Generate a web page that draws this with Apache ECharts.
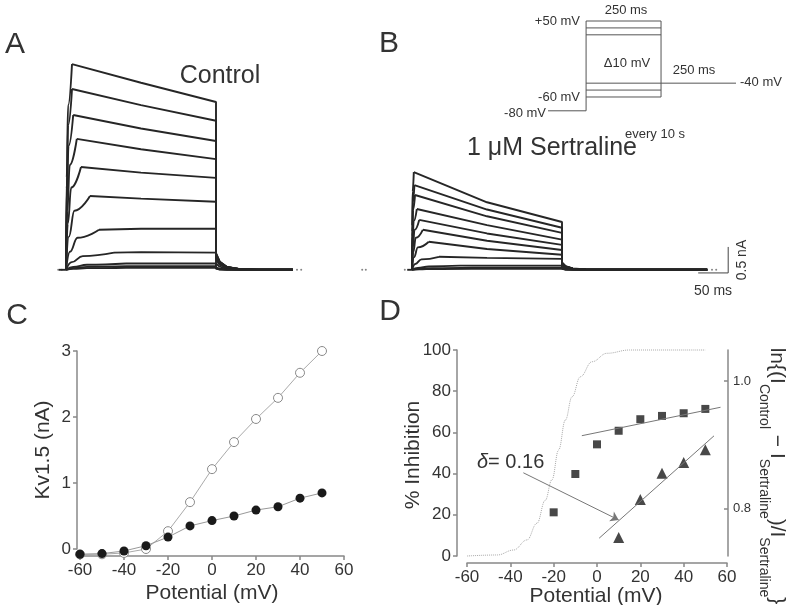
<!DOCTYPE html>
<html>
<head>
<meta charset="utf-8">
<script src="https://cdn.jsdelivr.net/npm/echarts@6/dist/echarts.min.js"></script>
<style>
html, body { margin: 0; padding: 0; background: #fff; }
#chart { width: 790px; height: 605px; }
</style>
</head>
<body>
<div id="chart"></div>
<script>
const FONT = "'Liberation Sans', Arial, sans-serif"
const INK = '#333'
const AXIS = '#888'

// A / B: one entry per test pulse, +50 mV first (nA, ms)
const ctrlPeak = [3.96, 3.48, 2.98, 2.52, 1.98, 1.42, 0.77, 0.33, 0.12, 0.07, 0.04]
const ctrlPeakTime = [10, 10, 12, 18, 25, 40, 55, 80, 100, 100, 100]
const ctrlMid = [3.60, 3.17, 2.72, 2.32, 1.87, 1.37, 0.79, 0.34, 0.12, 0.07, 0.04]
const ctrlEnd = [3.23, 2.87, 2.48, 2.13, 1.77, 1.31, 0.79, 0.33, 0.12, 0.07, 0.04]
const ctrlTail = [0.32, 0.31, 0.30, 0.29, 0.27, 0.25, 0.20, 0.12, 0.04, 0.02, 0.01]

const sertPeak = [1.88, 1.63, 1.44, 1.17, 0.96, 0.77, 0.54, 0.25, 0.08, 0.04, 0.02]
const sertPeakTime = [3, 4, 5, 8, 12, 18, 28, 45, 80, 100, 100]
const sertMid = [1.30, 1.16, 1.03, 0.86, 0.70, 0.56, 0.40, 0.23, 0.08, 0.04, 0.02]
const sertEnd = [0.92, 0.81, 0.71, 0.58, 0.48, 0.38, 0.29, 0.21, 0.08, 0.04, 0.02]
const sertTail = [0.14, 0.13, 0.13, 0.12, 0.11, 0.10, 0.08, 0.05, 0.02, 0.01, 0.005]

const pulseMs = 250
const midMs = 125
const ctrlDots = [-13, -7, 385, 392]
const sertDots = [-83, -77, -12, 500, 507]

// voltage protocol (mV, ms)
const stepLevels = [50, 40, 30, -40, -50, -60]
const holdMv = -80
const tailMv = -40
const preMs = -127
const tailEndMs = 500

// C: I-V
const potentials = [-60, -50, -40, -30, -20, -10, 0, 10, 20, 30, 40, 50]
const ctrlIV = [-0.08, -0.08, -0.06, 0.0, 0.27, 0.71, 1.21, 1.62, 1.97, 2.29, 2.67, 3.0]
const sertIV = [-0.08, -0.07, -0.03, 0.05, 0.18, 0.35, 0.43, 0.50, 0.59, 0.64, 0.77, 0.85]
const potentialTicks = [-60, -40, -20, 0, 20, 40, 60]
const currentTicks = [0, 1, 2, 3]

// D: inhibition
const inhibV = [-20, -10, 0, 10, 20, 30, 40, 50]
const inhibPct = [21.2, 39.8, 54.2, 60.8, 66.4, 68.0, 69.3, 71.4]
const lnV = [10, 20, 30, 40, 50]
const lnVal = [0.754, 0.814, 0.855, 0.872, 0.892]
const fitSqV = [-7, 57]
const fitSqPct = [58.4, 72.2]
const fitTriV = [1, 54]
const fitTriVal = [0.753, 0.914]
const actV = [-60, -46, -38.5, -32.3, -27.7, -23.9, -20.8, -17.7, -14.6, -11.5, -7.7, -2.3, 4.6, 15, 50]
const actPct = [0, 0.5, 2.9, 7.8, 15.9, 27, 37, 51.5, 66, 77.3, 87, 94.3, 98.4, 100, 100]
const inhibTicks = [0, 20, 40, 60, 80, 100]
const lnTicks = [0.8, 1.0]
const arrowFrom = [-34, 40.4]
const arrowTo = [10, 17.5]

const zip = (xs, ys) => xs.map((x, i) => [x, ys[i]])

// activation up to the peak
function rise(i, pk, pt) {
  const p = pk[i], t = pt[i]
  return [[0, 0], [t * 0.12, p * 0.45], [t * 0.35, p * 0.8], [t, p]]
}
// inactivation during the pulse, then repolarisation and tail
function rest(i, pk, pt, mid, end, tl, xEnd) {
  const q = tl[i]
  return [[pt[i], pk[i]], [midMs, mid[i]], [pulseMs, end[i]],
    [pulseMs, q], [pulseMs + 6, q * 0.5], [pulseMs + 18, q * 0.18],
    [pulseMs + 40, q * 0.04], [pulseMs + 70, 0], [xEnd, 0]]
}

function traceSeries(axis, data, smooth) {
  return {
    type: 'line', xAxisIndex: axis, yAxisIndex: axis, data,
    showSymbol: false, silent: true, clip: false,
    smooth: smooth || false, smoothMonotone: 'x',
    lineStyle: {color: '#262626', width: 1.9}
  }
}

const series = []
function sweeps(axis, pk, pt, mid, end, tl, xEnd) {
  pk.forEach((_, i) => {
    series.push(traceSeries(axis, rise(i, pk, pt), 0.45))
    series.push(traceSeries(axis, rest(i, pk, pt, mid, end, tl, xEnd), false))
  })
}
sweeps(0, ctrlPeak, ctrlPeakTime, ctrlMid, ctrlEnd, ctrlTail, 378)
sweeps(1, sertPeak, sertPeakTime, sertMid, sertEnd, sertTail, 492)
series.push(traceSeries(0, [[-12, 0], [0, 0]], false))
series.push(traceSeries(1, [[-8, 0], [0, 0]], false))
series.push({type: 'scatter', xAxisIndex: 0, yAxisIndex: 0, clip: false, symbolSize: 2,
  itemStyle: {color: '#666'}, data: ctrlDots.map(t => [t, 0])})
series.push({type: 'scatter', xAxisIndex: 1, yAxisIndex: 1, clip: false, symbolSize: 2,
  itemStyle: {color: '#666'}, data: sertDots.map(t => [t, 0])})
// scale bar 50 ms / 0.5 nA
series.push({type: 'line', xAxisIndex: 1, yAxisIndex: 1, clip: false, showSymbol: false,
  lineStyle: {color: '#444', width: 1},
  data: [[477, -0.06], [477 + 50, -0.06], [477 + 50, -0.06 + 0.5]]})

// protocol segments
const seg = (pts) => series.push({type: 'line', xAxisIndex: 2, yAxisIndex: 2, showSymbol: false,
  silent: true, clip: false, lineStyle: {color: '#555', width: 1}, data: pts})
seg([[preMs, holdMv], [0, holdMv], [0, stepLevels[0]]])
stepLevels.forEach(v => seg([[0, v], [pulseMs, v]]))
seg([[pulseMs, stepLevels[0]], [pulseMs, stepLevels[stepLevels.length - 1]]])
seg([[pulseMs, tailMv], [tailEndMs, tailMv]])

// C
series.push({type: 'line', xAxisIndex: 3, yAxisIndex: 3, clip: false, data: zip(potentials, ctrlIV),
  symbol: 'circle', symbolSize: 9,
  itemStyle: {color: '#fff', borderColor: '#8a8a8a', borderWidth: 1},
  lineStyle: {color: '#aaa', width: 1}})
series.push({type: 'line', xAxisIndex: 3, yAxisIndex: 3, clip: false, data: zip(potentials, sertIV),
  symbol: 'circle', symbolSize: 9,
  itemStyle: {color: '#1a1a1a'},
  lineStyle: {color: '#999', width: 1}})

// D
series.push({type: 'line', xAxisIndex: 4, yAxisIndex: 4, clip: false, data: zip(actV, actPct),
  showSymbol: false, smooth: 0.4, smoothMonotone: 'x',
  lineStyle: {color: '#aaa', width: 1, type: 'dotted'}})
series.push({type: 'line', xAxisIndex: 4, yAxisIndex: 4, clip: false, data: zip(fitSqV, fitSqPct),
  showSymbol: false, lineStyle: {color: '#777', width: 1}})
series.push({type: 'line', xAxisIndex: 4, yAxisIndex: 5, clip: false, data: zip(fitTriV, fitTriVal),
  showSymbol: false, lineStyle: {color: '#777', width: 1}})
series.push({type: 'scatter', xAxisIndex: 4, yAxisIndex: 4, clip: false, data: zip(inhibV, inhibPct),
  symbol: 'rect', symbolSize: 8, itemStyle: {color: '#1a1a1a'},
  markLine: {silent: true, symbol: ['none', 'arrow'], symbolSize: 8, label: {show: false},
    lineStyle: {color: '#777', width: 1, type: 'solid'},
    data: [[{coord: arrowFrom}, {coord: arrowTo}]]}})
series.push({type: 'scatter', xAxisIndex: 4, yAxisIndex: 5, clip: false, data: zip(lnV, lnVal),
  symbol: 'triangle', symbolSize: 11, itemStyle: {color: '#1a1a1a'}})

const hidden = (i, min, max) => ({gridIndex: i, type: 'value', min, max, show: false})
const axisLine = {show: true, onZero: false, lineStyle: {color: AXIS, width: 1.5}}
const label = (size, margin) => ({color: INK, fontSize: size, fontFamily: FONT, margin})
const tick = {show: true, length: 4, lineStyle: {color: AXIS, width: 1.5}}

function txt(x, y, text, size, extra) {
  return Object.assign({type: 'text', x, y, silent: true,
    style: {text, fontSize: size, fontFamily: FONT, fill: INK, align: 'center', verticalAlign: 'middle'}}, extra || {})
}
function atxt(x, y, text, size, align) {
  const t = txt(x, y, text, size)
  t.style.align = align
  return t
}

const option = {
  animation: false,
  backgroundColor: '#fff',
  grid: [
    {left: 57, top: 62, width: 243, height: 213, outerBoundsMode: 'none'},
    {left: 403, top: 62, width: 327, height: 213, outerBoundsMode: 'none'},
    {left: 548, top: 21, width: 188, height: 89.8, outerBoundsMode: 'none'},
    {left: 80, top: 351, width: 264, height: 198, outerBoundsMode: 'none'},
    {left: 467, top: 350, width: 260, height: 206, outerBoundsMode: 'none'}
  ],
  xAxis: [
    hidden(0, -15, 390),
    hidden(1, -15, 530),
    hidden(2, preMs, tailEndMs),
    {gridIndex: 3, type: 'value', min: potentialTicks[0], max: potentialTicks[potentialTicks.length - 1], interval: 20,
      offset: 7, axisLine, axisTick: tick, axisLabel: label(17, 6), splitLine: {show: false}},
    {gridIndex: 4, type: 'value', min: potentialTicks[0], max: potentialTicks[potentialTicks.length - 1], interval: 20,
      offset: 7, axisLine, axisTick: tick, axisLabel: label(17, 6), splitLine: {show: false}}
  ],
  yAxis: [
    hidden(0, -0.1, 4.0),
    hidden(1, -0.1, 4.0),
    hidden(2, holdMv, stepLevels[0]),
    {gridIndex: 3, type: 'value', min: currentTicks[0], max: currentTicks[currentTicks.length - 1], interval: 1,
      offset: 3, axisLine, axisTick: tick, axisLabel: label(17, 6), splitLine: {show: false}},
    {gridIndex: 4, type: 'value', min: inhibTicks[0], max: inhibTicks[inhibTicks.length - 1], interval: 20,
      offset: 10, axisLine, axisTick: tick, axisLabel: label(17, 6), splitLine: {show: false}},
    {gridIndex: 4, type: 'value', position: 'right', min: 0.725, max: 1.049, offset: 1,
      axisLine, splitLine: {show: false},
      axisTick: Object.assign({}, tick, {inside: true, customValues: lnTicks}),
      axisLabel: Object.assign(label(13, 5), {customValues: lnTicks, formatter: v => v.toFixed(1)})}
  ],
  series,
  graphic: [
    txt(15, 45, 'A', 30),
    txt(389, 44, 'B', 30),
    txt(17, 316, 'C', 30),
    txt(390, 312, 'D', 30),
    txt(220, 76, 'Control', 25),
    txt(552, 148, '1 μM Sertraline', 25),
    atxt(580, 21, '+50 mV', 13, 'right'),
    atxt(580, 97, '-60 mV', 13, 'right'),
    atxt(546, 113, '-80 mV', 13, 'right'),
    txt(626, 10, '250 ms', 13),
    txt(627, 63, 'Δ10 mV', 13),
    txt(694, 70, '250 ms', 13),
    atxt(740, 82, '-40 mV', 13, 'left'),
    txt(655, 134, 'every 10 s', 13),
    txt(742, 260, '0.5 nA', 14, {rotation: Math.PI / 2}),
    txt(713, 291, '50 ms', 14),
    txt(212, 593, 'Potential (mV)', 21),
    txt(43, 450, 'Kv1.5 (nA)', 21, {rotation: Math.PI / 2}),
    txt(596, 596, 'Potential (mV)', 21),
    txt(413, 455, '% Inhibition', 21, {rotation: Math.PI / 2}),
    {type: 'text', x: 477, y: 462, silent: true,
      style: {text: '{d|δ}{n|= 0.16}', align: 'left', verticalAlign: 'middle', fontFamily: FONT, fontSize: 20, fill: INK,
        rich: {d: {fontSize: 20, fontStyle: 'italic', fontFamily: FONT, fill: INK},
          n: {fontSize: 20, fontFamily: FONT, fill: INK}}}},
    {type: 'text', x: 777, y: 476, rotation: -Math.PI / 2, silent: true,
      style: {text: '{m|ln{(I}{s|Control}{m| − I}{s|Sertraline}{m|)/I}{s|Sertraline}}',
        align: 'center', verticalAlign: 'middle', fontFamily: FONT, fontSize: 21, lineHeight: 40, fill: INK,
        rich: {m: {fontSize: 21, lineHeight: 40, verticalAlign: 'middle', fontFamily: FONT, fill: INK},
          s: {fontSize: 14, lineHeight: 14, verticalAlign: 'bottom', fontFamily: FONT, fill: INK}}}}
  ]
}

const chart = echarts.init(document.getElementById('chart'), null, {renderer: 'canvas'})
chart.setOption(option)
</script>
</body>
</html>
